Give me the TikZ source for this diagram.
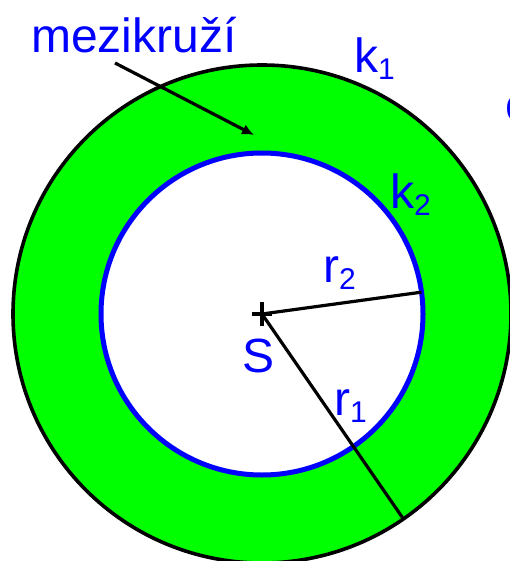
\documentclass[tikz,border=0pt]{standalone}
\usepackage{fontspec}
\setmainfont{Liberation Sans}
\usetikzlibrary{arrows.meta}
\newcommand{\lowsub}[1]{\raisebox{-7pt}{\fontsize{30}{34}\selectfont #1}}
\begin{document}
\begin{tikzpicture}[x=1pt,y=-1pt]
	\tikzset{lab/.style={anchor=base west,inner sep=0pt,text=blue,font=\fontsize{48}{56}\selectfont}}
	\useasboundingbox (0,0) rectangle (510,561);
	\coordinate (S) at (262,314);
	\fill[green,even odd rule] (S) circle (249) (S) circle (161);
	\draw[line width=3.6pt] (S) circle (249);
	\draw[blue,line width=5pt] (S) circle (161);
	\coordinate (p2) at ([shift={(-7.8:161)}]S);
	\coordinate (p1) at ([shift={(55.4:249)}]S);
	\draw[line width=3.2pt] (S) -- (p2);
	\draw[line width=3.2pt] (S) -- (p1);
	\draw[line width=3.2pt] ([xshift=-10pt]S) -- ([xshift=10pt]S);
	\draw[line width=3.2pt] ([yshift=-12pt]S) -- ([yshift=12pt]S);
	\node[lab] (mez) at (31,53) {mezikruží};
	\node[lab] (k1) at (354,73) {k\lowsub{1}};
	\node[lab] (k2) at (390,208) {k\lowsub{2}};
	\node[lab] (r2) at (323,282) {r\lowsub{2}};
	\node[lab] (r1) at (334,415) {r\lowsub{1}};
	\node[lab] (s) at (242,372) {S};
	\node[lab] (cut) at (505,122) {o};
	\coordinate (tail) at (115,63);
	\coordinate (tip) at (254,135);
	\draw[-{Latex[length=12pt,width=11pt]},line width=3.2pt] (tail) -- (tip);
\end{tikzpicture}
\end{document}
